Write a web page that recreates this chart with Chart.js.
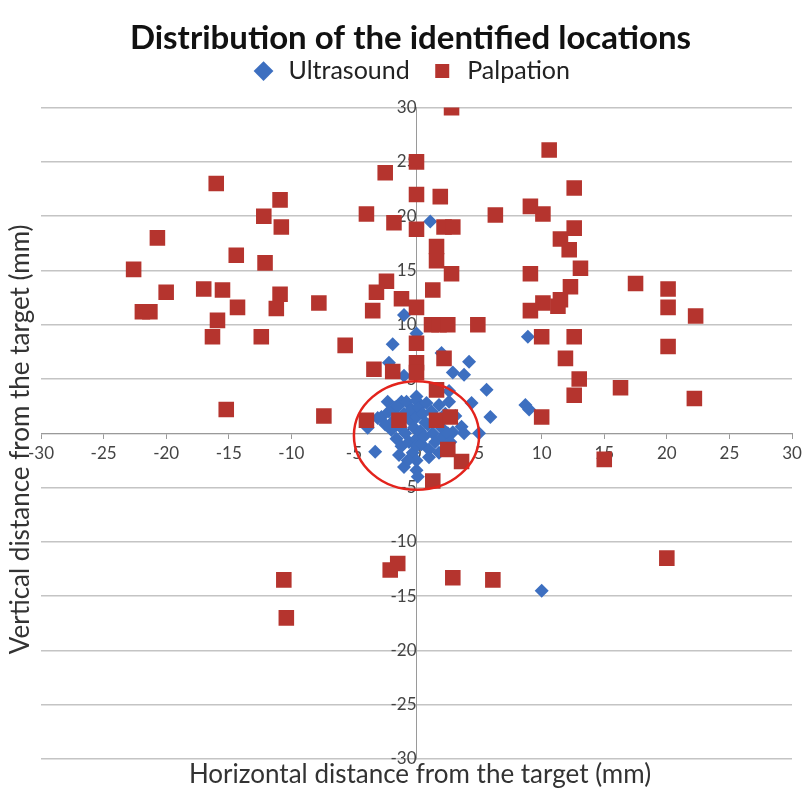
<!DOCTYPE html>
<html>
<head>
<meta charset="utf-8">
<title>Distribution of the identified locations</title>
<script src="https://cdn.jsdelivr.net/npm/chart.js@4.4.1/dist/chart.umd.min.js"></script>
<style>
    html, body { margin: 0; padding: 0; background: #fff; }
    #wrap { position: relative; width: 803px; height: 791px; }
</style>
</head>
<body>
<div id="wrap"><canvas id="myChart" width="803" height="791"></canvas></div>
<script>
// data (mm)
const ultrasoundX = [1.1, -1.0, 0, -1.9, 8.9, -2.2, 2.0, 4.2, 2.9, 3.8, -1.0, 5.6, 2.6, 4.4, 5.9, 8.7, 9.0,
    5.0, 3.6, 3.8, 2.9, 3.1, 2.6, -3.9, -3.3, -1.4, -1.0, 0, 0.1, 10.0, -3.1, -2.3, -1.2, 0, -1.7,
    -2.8, -2.5, -2.2, -2.0, -1.8, -1.6, -1.5, -1.3, -1.2, -1.0, -0.9, -0.8, -0.6, -0.5, -0.4, -0.3, -0.2,
    0, 0, 0, 0, 0, 0.2, 0.3, 0.4, 0.5, 0.6, 0.8, 0.9, 1.0, 1.2, 1.3, 1.5, 1.6, 1.8, 2.0, 2.1, 2.3, 2.5,
    2.7, 1.0, -1.5, 0.7, -0.7, 1.8];
const ultrasoundY = [19.5, 10.9, 9.2, 8.2, 8.9, 6.5, 7.4, 6.6, 5.6, 5.4, 5.3, 4.0, 3.9, 2.8, 1.5, 2.6, 2.2,
    0, 0.6, 0, 0.1, 1.6, 2.9, 0.5, -1.7, -2.0, -3.1, -3.4, -4.0, -14.5, 1.4, 2.9, 2.9, 3.4, 2.4,
    1.5, 0.8, 2.0, 0.3, 1.2, -0.5, 2.5, 0.6, -1.2, 1.8, 0.0, 2.9, -0.8, 1.2, 2.2, -1.8, 0.5,
    3.0, 1.5, -0.5, -1.2, -2.5, 2.4, 0.2, -1.0, 1.8, -0.3, 2.8, 0.8, -1.5, 2.0, 0.0, -0.8, 1.4, 2.6, 0.5, -0.3, 1.8, 0.0,
    -0.8, -2.2, 1.5, 1.0, -2.5, -1.8];

const palpationX = [-16, -10.9, -12.2, -10.8, -20.7, -14.4, -12.1, -22.6, -17, -15.5, -20, -10.9, -7.8,
    -21.9, -21.3, -14.3, -11.2, -15.9, -16.3, -12.4, -5.7, -3.4, -15.2, -7.4, -4.0, -2.5, -4.0, -1.8,
    -2.4, -3.2, -3.5, -1.2, -1.9, -1.4,
    2.8, 10.6, 0, 12.6, 0, 1.9, 9.1, 10.1, 6.3, 0, 2.2, 2.9, 12.6, 11.5, 12.2, 1.6, 1.6, 2.8, 9.1, 13.1,
    17.5, 20.1, 12.3, 1.3, 10.1, 11.5, 11.3, 9.1, 0, 20.1, 22.3, 1.2, 1.8, 2.5, 4.9, 10.0, 12.6, 0, 20.1,
    2.2, 11.9, 0, 0, 13.0, 16.3, 12.6, 22.2, 10.0, 1.6, 1.6, 2.7, 2.5, 3.6, 1.3, 15.0,
    -10.6, -10.4, -2.1, -1.5, 2.9, 6.1, 20.0];
const palpationY = [23, 21.5, 20, 19, 18, 16.4, 15.7, 15.1, 13.3, 13.2, 13, 12.8, 12,
    11.2, 11.2, 11.6, 11.5, 10.4, 8.9, 8.9, 8.1, 5.9, 2.2, 1.6, 1.2, 24, 20.2, 19.4,
    14, 13, 11.3, 12.4, 5.7, 1.2,
    30, 26.1, 25, 22.6, 22, 21.8, 20.9, 20.2, 20.1, 18.8, 19, 19, 18.9, 17.9, 16.9, 17.2, 15.9, 14.7, 14.7, 15.2,
    13.8, 13.3, 13.5, 13.2, 12, 12.3, 11.7, 11.3, 11.6, 11.6, 10.8, 10, 10, 10, 10, 8.9, 8.9, 8.3, 8,
    6.9, 6.9, 6.5, 5.6, 5, 4.2, 3.5, 3.2, 1.5, 4.0, 1.2, 1.5, -1.5, -2.6, -4.4, -2.4,
    -13.5, -17, -12.6, -12, -13.3, -13.5, -11.5];

const axisMin = -30;
const axisMax = 30;
const axisStep = 5;

// target zone circle (centre and radius in mm)
const targetCentre = [0, -0.2];
const targetRadius = 5;

const ultrasoundColor = '#3d6fc0';
const palpationColor = '#b5342e';

function toPoints(xs, ys) {
    return xs.map((x, i) => ({ x: x, y: ys[i] }));
}

const extrasPlugin = {
    id: 'extras',
    afterDatasetsDraw(chart) {
        const { ctx, scales: { x, y } } = chart;
        const cx = x.getPixelForValue(targetCentre[0]);
        const cy = y.getPixelForValue(targetCentre[1]);
        const rx = Math.abs(x.getPixelForValue(targetRadius) - x.getPixelForValue(0));
        const ry = Math.abs(y.getPixelForValue(0) - y.getPixelForValue(targetRadius));
        ctx.save();
        ctx.beginPath();
        ctx.ellipse(cx, cy, rx, ry, 0, 0, Math.PI * 2);
        ctx.strokeStyle = '#e3231c';
        ctx.lineWidth = 2.5;
        ctx.stroke();
        ctx.restore();
    },
    afterDraw(chart) {
        // axis titles sit at the chart edges, not next to the zero-crossing axes
        const { ctx, chartArea } = chart;
        ctx.save();
        ctx.fillStyle = '#333';
        ctx.font = '26px Lato';
        ctx.textAlign = 'center';
        ctx.textBaseline = 'middle';
        ctx.fillText('Horizontal distance from the target (mm)', 420, chartArea.bottom + 16);
        ctx.translate(21, (chartArea.top + chartArea.bottom) / 2 + 6);
        ctx.rotate(-Math.PI / 2);
        ctx.fillText('Vertical distance from the target (mm)', 0, 0);
        ctx.restore();
    }
};

const chartCtx = document.getElementById('myChart').getContext('2d');
const scatterChart = new Chart(chartCtx, {
    type: 'scatter',
    data: {
        datasets: [{
            label: 'Ultrasound',
            data: toPoints(ultrasoundX, ultrasoundY),
            pointStyle: 'rectRot',
            pointRadius: 7,
            pointHoverRadius: 7,
            backgroundColor: ultrasoundColor,
            borderColor: ultrasoundColor,
            borderWidth: 0,
            order: 1
        }, {
            label: 'Palpation',
            data: toPoints(palpationX, palpationY),
            pointStyle: 'rect',
            pointRadius: 11,
            pointHoverRadius: 11,
            backgroundColor: palpationColor,
            borderColor: palpationColor,
            borderWidth: 0,
            order: 0
        }]
    },
    options: {
        responsive: false,
        animation: false,
        layout: { padding: { left: 22, right: 4, top: 0, bottom: 32 } },
        plugins: {
            title: {
                display: true,
                text: 'Distribution of the identified locations',
                color: '#111',
                font: { family: 'Lato', size: 33, weight: 'bold' },
                padding: { top: 19, bottom: -20 }
            },
            legend: {
                position: 'top',
                labels: {
                    usePointStyle: true,
                    boxHeight: 14,
                    color: '#222',
                    font: { family: 'Lato', size: 25 },
                    padding: 20,
                    sort: (a, b) => a.datasetIndex - b.datasetIndex
                }
            },
            tooltip: { enabled: false }
        },
        scales: {
            x: {
                type: 'linear',
                min: axisMin,
                max: axisMax,
                position: { y: 0 },
                grid: { display: true, drawOnChartArea: false, drawTicks: true, tickLength: 5, color: '#9a9a9a' },
                border: { color: '#9a9a9a', width: 1 },
                ticks: {
                    stepSize: axisStep,
                    autoSkip: false,
                    maxRotation: 0,
                    padding: 5,
                    color: '#444',
                    font: { family: 'Lato', size: 17 }
                },
                // room for the y title on the left, let the last label run to the edge
                afterFit: function (scale) {
                    scale.paddingLeft = Math.max(scale.paddingLeft, 41);
                    scale.paddingRight = 8;
                }
            },
            // empty top axis, only used as a gap between legend and plot
            xGap: {
                type: 'linear',
                position: 'top',
                display: true,
                grid: { display: false },
                border: { display: false },
                ticks: { display: false },
                afterFit: function (scale) {
                    scale.height = 14;
                }
            },
            y: {
                type: 'linear',
                min: axisMin,
                max: axisMax,
                position: { x: 0 },
                grid: { color: '#c4c4c4', lineWidth: 1.5, drawTicks: false },
                border: { color: '#9a9a9a', width: 1 },
                ticks: {
                    stepSize: axisStep,
                    autoSkip: false,
                    padding: 4,
                    color: '#444',
                    font: { family: 'Lato', size: 17 }
                }
            }
        }
    },
    plugins: [extrasPlugin]
});
</script>
</body>
</html>
